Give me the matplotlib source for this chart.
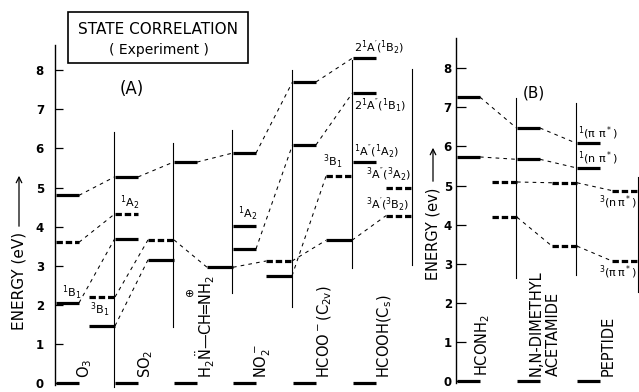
import matplotlib
matplotlib.use('Agg')
import matplotlib.pyplot as plt
from matplotlib.patches import Rectangle

plt.rcParams['font.family'] = ['DejaVu Sans']
plt.rcParams['mathtext.fontset'] = 'dejavusans'
plt.rcParams['mathtext.default'] = 'regular'

# ---- data: state energies (eV), dashed = triplet ----
O3_E     = [0.00, 4.80, 3.60, 2.05, 2.20, 1.46]
O3_DASH  = [0, 0, 1, 0, 1, 0]
SO2_E    = [0.00, 5.27, 4.32, 3.68, 3.66, 3.15]
SO2_DASH = [0, 0, 1, 0, 1, 0]
H2N_E    = [0.00, 5.65, 2.96]
H2N_DASH = [0, 0, 0]
NO2_E    = [0.00, 5.88, 4.01, 3.43, 3.12, 2.74]
NO2_DASH = [0, 0, 0, 0, 1, 0]
HCOO_E    = [0.00, 7.70, 6.09, 5.29, 3.65]
HCOO_DASH = [0, 0, 0, 1, 0]
HCOOH_E    = [0.00, 8.31, 7.42, 5.64, 5.00, 4.28]
HCOOH_DASH = [0, 0, 0, 0, 1, 1]

HCONH2_E    = [0.00, 7.26, 5.73, 5.09, 4.19]
HCONH2_DASH = [0, 0, 0, 1, 1]
DMA_E    = [0.00, 6.47, 5.67, 5.07, 3.45]
DMA_DASH = [0, 0, 0, 1, 1]
PEP_E    = [0.00, 6.08, 5.45, 4.87, 3.07]
PEP_DASH = [0, 0, 0, 1, 1]

# correlations: (from molecule, level, to molecule, level)
LINKS_A = [('O3', 1, 'SO2', 1), ('O3', 2, 'SO2', 2), ('O3', 3, 'SO2', 3),
           ('O3', 4, 'SO2', 4), ('O3', 5, 'SO2', 5),
           ('SO2', 1, 'H2N', 1), ('SO2', 4, 'H2N', 2),
           ('H2N', 1, 'NO2', 1), ('H2N', 2, 'NO2', 4),
           ('NO2', 1, 'HCOO', 1), ('NO2', 3, 'HCOO', 2),
           ('NO2', 5, 'HCOO', 3), ('NO2', 4, 'HCOO', 4),
           ('HCOO', 1, 'HCOOH', 1), ('HCOO', 2, 'HCOOH', 2),
           ('HCOO', 4, 'HCOOH', 5)]
LINKS_B = [('HCONH2', i, 'DMA', i) for i in range(1, 5)] + \
          [('DMA', i, 'PEP', i) for i in range(1, 5)]

MOL_LABELS = {
    'O3': 'O$_3$', 'SO2': 'SO$_2$',
    'H2N': r'H$_2\ddot{N}$—CH═NH$_2$', 'NO2': 'NO$_2^-$',
    'HCOO': 'HCOO$^-$(C$_{2v}$)', 'HCOOH': 'HCOOH(C$_s$)',
    'HCONH2': 'HCONH$_2$', 'DMA': 'N,N-DIMETHYL\nACETAMIDE', 'PEP': 'PEPTIDE',
}
TICKS = list(range(0, 9))

# ---- layout (pixel x positions of columns) ----
DATA = {'O3': (O3_E, O3_DASH), 'SO2': (SO2_E, SO2_DASH), 'H2N': (H2N_E, H2N_DASH),
        'NO2': (NO2_E, NO2_DASH), 'HCOO': (HCOO_E, HCOO_DASH),
        'HCOOH': (HCOOH_E, HCOOH_DASH), 'HCONH2': (HCONH2_E, HCONH2_DASH),
        'DMA': (DMA_E, DMA_DASH), 'PEP': (PEP_E, PEP_DASH)}
SIDE = {'O3': 'LLLLRR', 'SO2': 'LLLLRR', 'H2N': 'LLR', 'NO2': 'LLLLRR',
        'HCOO': 'LLLRR', 'HCOOH': 'LLLLRR', 'HCONH2': 'LLLRR', 'DMA': 'LLLRR',
        'PEP': 'LLLRR'}
COL_X = {'O3': 55, 'SO2': 114, 'H2N': 173, 'NO2': 232, 'HCOO': 292, 'HCOOH': 352,
         'HCONH2': 456, 'DMA': 516, 'PEP': 576}
FRAMES_A = [(114, -0.1, 6.42), (173, 1.43, 6.14), (232, 2.30, 6.47),
            (292, 1.94, 8.00), (352, 2.94, 8.26), (412, 3.02, 8.03)]
FRAMES_B = [(516, 2.63, 7.24), (576, 2.71, 7.11), (638, 2.28, 5.22)]
LABEL_X = {'O3': 85, 'SO2': 146, 'H2N': 205, 'NO2': 263, 'HCOO': 325,
           'HCOOH': 385, 'HCONH2': 483, 'DMA': 545, 'PEP': 608}
B_MOLS = ('HCONH2', 'DMA', 'PEP')

LW_LEVEL = 2.3


def level_span(mol, i):
    c = COL_X[mol]
    if SIDE[mol][i] == 'L':
        return c + 0.5, c + 24
    if mol in B_MOLS:
        return c + 36, c + 61
    return c + 34, c + 60


fig = plt.figure(figsize=(6.39, 3.92), dpi=100)
axA = fig.add_axes([0, 0, 1, 1])
axB = fig.add_axes([0, 0, 1, 1])
axB.patch.set_alpha(0)
axA.set_ylim(-0.23, 383 / 39.1)
axB.set_ylim(-0.281, 381 / 39.1)

for ax, x0, top, ln, pad in [(axA, 55, 8.64, 6, 8), (axB, 456, 8.77, 7, 3)]:
    ax.set_xlim(0, 639)
    for s in ('top', 'right', 'bottom'):
        ax.spines[s].set_visible(False)
    ax.spines['left'].set_position(('data', x0))
    ax.spines['left'].set_bounds(-0.05, top)
    ax.spines['left'].set_linewidth(1.0)
    ax.set_xticks([])
    ax.set_yticks(TICKS)
    ax.tick_params(axis='y', direction='in', length=ln, width=0.9,
                   labelsize=8.5, pad=pad)
    for t in ax.get_yticklabels():
        t.set_fontweight('bold')

# column frames
for ax, frames in [(axA, FRAMES_A), (axB, FRAMES_B)]:
    for x, lo, hi in frames:
        ax.plot([x, x], [lo, hi], color='black', lw=0.8)

# levels
for mol, (E, D) in DATA.items():
    ax = axB if mol in B_MOLS else axA
    for i, (e, d) in enumerate(zip(E, D)):
        x1, x2 = level_span(mol, i)
        ln, = ax.plot([x1, x2], [e, e], color='black', lw=LW_LEVEL,
                      solid_capstyle='butt', dash_capstyle='butt')
        if d:
            ln.set_dashes((2.0, 0.9))

# correlation lines
for ax, links in [(axA, LINKS_A), (axB, LINKS_B)]:
    for m1, i1, m2, i2 in links:
        xa = level_span(m1, i1)[1]
        xb = level_span(m2, i2)[0]
        ln, = ax.plot([xa, xb], [DATA[m1][0][i1], DATA[m2][0][i2]],
                      color='black', lw=0.75)
        ln.set_dashes((3.5, 4.0))

# state labels: (molecule, level, text, anchor, dx, dy, va)
STATE_LABELS = [
    ('O3', 3, '${}^1B_1$', 'L', 6, 1, 'bottom'),
    ('O3', 5, '${}^3B_1$', 'L', 1, 7, 'bottom'),
    ('SO2', 2, '${}^1A_2$', 'L', 6, 2, 'bottom'),
    ('NO2', 2, '${}^1A_2$', 'L', 5, 3, 'bottom'),
    ('HCOO', 3, '${}^3B_1$', 'L', -3, 5, 'bottom'),
    ('HCOOH', 1, "$2^1A'(^1B_2)$", 'L', 1, 1, 'bottom'),
    ('HCOOH', 2, "$2^1A''(^1B_1)$", 'L', 1, -4, 'top'),
    ('HCOOH', 3, "${}^1A''(^1A_2)$", 'L', 1, 1, 'bottom'),
    ('HCOOH', 4, "${}^3A''(^3A_2)$", 'R', -1, 4, 'bottom'),
    ('HCOOH', 5, "${}^3A'(^3B_2)$", 'R', -3, 2, 'bottom'),
    ('PEP', 1, r'${}^1(\pi\ \pi^*)$', 'L', 1, 1, 'bottom'),
    ('PEP', 2, r'${}^1(n\ \pi^*)$', 'L', 1, 1, 'bottom'),
    ('PEP', 3, r'${}^3(n\,\pi^*)$', 'R', 0, -3, 'top'),
    ('PEP', 4, r'${}^3(\pi\,\pi^*)$', 'R', 0, -2, 'top'),
]
for mol, i, txt, anc, dx, dy, va in STATE_LABELS:
    ax = axB if mol in B_MOLS else axA
    x1, x2 = level_span(mol, i)
    x = x1 if anc == 'L' else x2
    ax.annotate(txt, xy=(x, DATA[mol][0][i]), xytext=(dx, dy),
                textcoords='offset pixels', ha='left' if anc == 'L' else 'right',
                va=va, fontsize=8)

# molecule names (vertical)
for mol, x in LABEL_X.items():
    ax = axB if mol in B_MOLS else axA
    ax.text(x, 0.13, MOL_LABELS[mol], rotation=90, ha='center', va='bottom',
            fontsize=10.5, linespacing=1.15, multialignment='left')
axA.text(190, (383 - 294) / 39.1, '⊕', ha='center', va='center', fontsize=8)

# axis titles with arrows
axA.text(19, (383 - 281) / 39.1, 'ENERGY (eV)', rotation=90, ha='center',
         va='center', fontsize=11)
axA.annotate('', xy=(19, (383 - 173) / 39.1), xytext=(19, (383 - 229) / 39.1),
             arrowprops=dict(arrowstyle='->', lw=0.9))
axB.text(433, (381 - 234) / 39.1, 'ENERGY (ev)', rotation=90, ha='center',
         va='center', fontsize=10.5)
axB.annotate('', xy=(433, (381 - 145) / 39.1), xytext=(433, (381 - 184) / 39.1),
             arrowprops=dict(arrowstyle='->', lw=0.9))

axA.text(132, (383 - 89) / 39.1, '(A)', ha='center', va='center', fontsize=12)
axB.text(534, (381 - 93) / 39.1, '(B)', ha='center', va='center', fontsize=11)

# title box
fig.add_artist(Rectangle((68 / 639, 1 - 63 / 392), 180 / 639, 51 / 392,
                         transform=fig.transFigure, fill=False, lw=1.2,
                         ec='black'))
fig.text(158 / 639, 1 - 30 / 392, 'STATE CORRELATION', ha='center',
         va='center', fontsize=11)
fig.text(159 / 639, 1 - 50 / 392, '( Experiment )', ha='center', va='center',
         fontsize=10)

fig.savefig('out.png', dpi=100)
